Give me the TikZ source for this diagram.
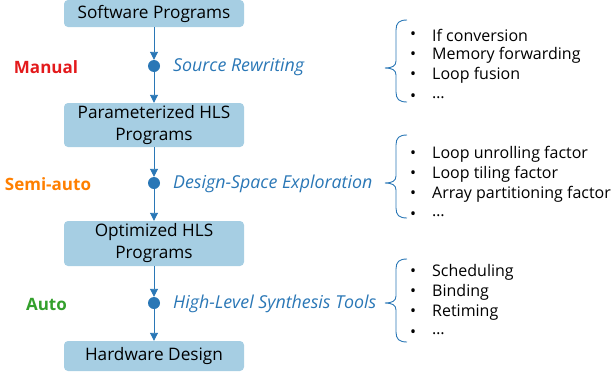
\documentclass[tikz,border=0pt]{standalone}
\usepackage{fontspec}
\setmainfont{Open Sans}
\usetikzlibrary{arrows.meta}
\definecolor{boxfill}{HTML}{A6CEE3}
\definecolor{flow}{HTML}{2A77B6}
\definecolor{manualc}{HTML}{E31A1C}
\definecolor{semic}{HTML}{FF7F00}
\definecolor{autoc}{HTML}{33A02C}
\begin{document}
\begin{tikzpicture}[x=1pt,y=-1pt,
  every node/.style={font=\fontsize{16}{21}\selectfont, inner sep=0pt},
  stage/.style={fill=boxfill, rounded corners=4pt, minimum width=180pt, align=center, text=black,
    font=\fontsize{17.2}{22}\selectfont},
  dotnode/.style={circle, fill=flow, minimum size=12pt},
  arr/.style={draw=flow, line width=0.9pt, -{Triangle[width=8pt,length=8pt]}},
  method/.style={anchor=west, text=flow, font=\fontsize{17.8}{22}\selectfont\itshape, yshift=-1.2pt},
  mode/.style={font=\fontsize{17}{22}\selectfont\bfseries, yshift=-1.2pt},
  item/.style={anchor=west, text=black, yshift=-1.2pt},
  bul/.style={text=black, yshift=-1.2pt},
  brace/.style={draw=flow, line width=0.9pt}]
\useasboundingbox (0,0) rectangle (612,375);
% stages
\node[stage, minimum height=27pt] (s1) at (154,13.5) {Software Programs};
\node[stage, minimum height=44pt] (s2) at (154,125) {Parameterized HLS\\Programs};
\node[stage, minimum height=45pt] (s3) at (154,243.5) {Optimized HLS\\Programs};
\node[stage, minimum height=30pt] (s4) at (154,356) {Hardware Design};
% dots
\node[dotnode] (d1) at (154,66) {};
\node[dotnode] (d2) at (154,183) {};
\node[dotnode] (d3) at (154,303) {};
\draw[arr] (s1) -- (d1);
\draw[arr] (d1) -- (s2);
\draw[arr] (s2) -- (d2);
\draw[arr] (d2) -- (s3);
\draw[arr] (s3) -- (d3);
\draw[arr] (d3) -- (s4);
% modes
\node[mode, text=manualc] (m1) at (46,66) {Manual};
\node[mode, text=semic] (m2) at (48,183) {Semi-auto};
\node[mode, text=autoc] (m3) at (46.5,303) {Auto};
% methods
\node[method] (t1) at (173,66) {Source Rewriting};
\node[method] (t2) at (173,183) {Design-Space Exploration};
\node[method] (t3) at (173,303) {High-Level Synthesis Tools};
% braces
\draw[brace] (407,20) .. controls (399,20) and (396,23) .. (396,30) -- (396,61)
  .. controls (396,66) and (392,68) .. (385,68) .. controls (392,68) and (396,70) .. (396,75)
  -- (396,92) .. controls (396,99) and (399,102) .. (407,102);
\draw[brace] (407,135) .. controls (399,135) and (396,138) .. (396,145) -- (396,176)
  .. controls (396,181) and (392,183) .. (385,183) .. controls (392,183) and (396,185) .. (396,190)
  -- (396,208) .. controls (396,215) and (399,218) .. (407,218);
\draw[brace] (407,259) .. controls (399,259) and (396,262) .. (396,269) -- (396,296)
  .. controls (396,301) and (392,303) .. (385,303) .. controls (392,303) and (396,305) .. (396,310)
  -- (396,332) .. controls (396,339) and (399,342) .. (407,342);
% lists
\foreach \y/\t [count=\i] in {34/If conversion, 54/Memory forwarding, 74/Loop fusion, 96/\dots,
  153/Loop unrolling factor, 173/Loop tiling factor, 193/Array partitioning factor, 214/\dots,
  271/Scheduling, 291/Binding, 311/Retiming, 332/\dots}{
  \node[bul] (b\i) at (413,\y) {•};
  \node[item] (i\i) at (432,\y) {\t};
}
\end{tikzpicture}
\end{document}
